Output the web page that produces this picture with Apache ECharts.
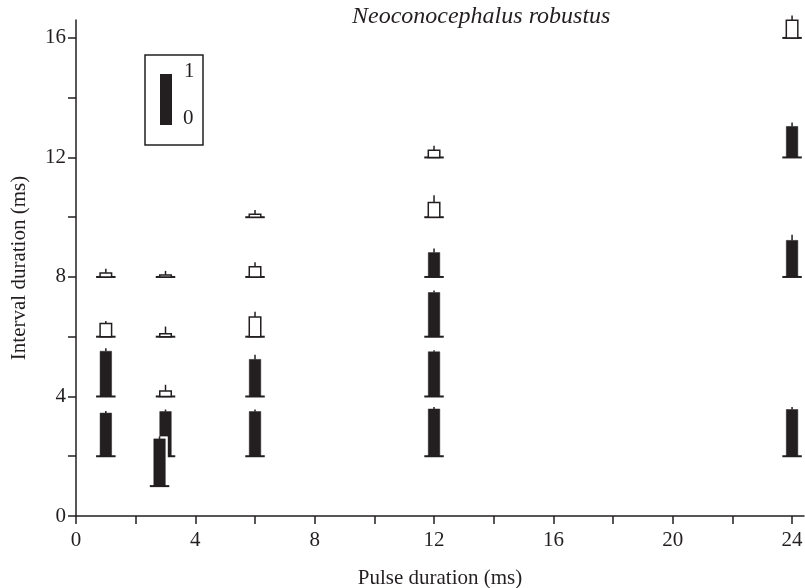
<!DOCTYPE html>
<html>
<head>
<meta charset="utf-8">
<script src="https://cdn.jsdelivr.net/npm/echarts@6/dist/echarts.min.js"></script>
<style>
  html, body { margin: 0; padding: 0; background: #fff; }
  #main { width: 805px; height: 588px; }
</style>
</head>
<body>
<div id="main"></div>
<script>
// pulse duration (ms), interval duration (ms), response (0..1), error, filled bar?
var pulse    = [1, 1, 1, 1, 3, 3, 3, 3, 6, 6, 6, 6, 6, 12, 12, 12, 12, 12, 12, 24, 24, 24, 24, 2.8];
var interval = [8, 6, 4, 2, 8, 6, 4, 2, 10, 8, 6, 4, 2, 12, 10, 8, 6, 4, 2, 16, 12, 8, 2, 1];
var response = [0.08, 0.26, 0.89, 0.85, 0.04, 0.06, 0.11, 0.88, 0.06, 0.2, 0.39, 0.73, 0.88,
                0.14, 0.29, 0.48, 0.87, 0.88, 0.93, 0.35, 0.61, 0.72, 0.92, 0.93];
var errs     = [0.08, 0.05, 0.06, 0.04, 0.08, 0.14, 0.12, 0.04, 0.08, 0.09, 0.1, 0.09, 0.04,
                0.09, 0.14, 0.08, 0.04, 0.03, 0.04, 0.09, 0.08, 0.11, 0.05, 0.05];
var filled   = [0, 0, 1, 1, 0, 0, 0, 1, 0, 0, 0, 1, 1, 0, 0, 1, 1, 1, 1, 0, 1, 1, 1, 1];

var xTicks = [0, 2, 4, 6, 8, 10, 12, 14, 16, 18, 20, 22, 24];
var xLabels = [0, 4, 8, 12, 16, 20, 24];
var yTicks = [0, 2, 4, 6, 8, 10, 12, 14, 16];
var yLabels = [0, 4, 8, 12, 16];

var INK = '#231f20';
var SCALE = 1.7; // y units for a response of 1

var data = pulse.map(function (p, i) {
    return [p, interval[i], response[i], errs[i], filled[i]];
});

function renderItem(params, api) {
    var x = api.value(0), y = api.value(1), r = api.value(2), e = api.value(3), f = api.value(4);
    var base = api.coord([x, y]);
    var top = api.coord([x, y + r * SCALE]);
    var whisk = api.coord([x, y + (r + e) * SCALE]);
    var bw = 11.5, lw = 19.5;
    var h = base[1] - top[1];
    return {
        type: 'group',
        children: [
            { type: 'rect', shape: { x: base[0] - bw / 2 - 2.5, y: top[1] - 2.5, width: bw + 5, height: h + 2.5 },
              style: { fill: '#fff' } },
            { type: 'line', shape: { x1: base[0] - lw / 2, y1: base[1], x2: base[0] + lw / 2, y2: base[1] },
              style: { stroke: INK, lineWidth: 2 } },
            { type: 'line', shape: { x1: base[0], y1: top[1], x2: base[0], y2: whisk[1] },
              style: { stroke: INK, lineWidth: 1.5 } },
            { type: 'rect', shape: { x: base[0] - bw / 2, y: top[1], width: bw, height: h },
              style: f ? { fill: INK, stroke: INK, lineWidth: 0.5 } : { fill: '#fff', stroke: INK, lineWidth: 1.5 } }
        ]
    };
}

var myChart = echarts.init(document.getElementById('main'));
var axisFont = { fontFamily: 'Liberation Serif', fontSize: 21, color: INK };
var nameFont = { fontFamily: 'Liberation Serif', fontSize: 21, color: INK };

var option = {
    animation: false,
    grid: { left: 76, right: 1, top: 20, bottom: 72, outerBoundsMode: 'none', containLabel: false },
    xAxis: {
        type: 'value', min: 0, max: 24.4,
        name: 'Pulse duration (ms)', nameLocation: 'middle', nameGap: 52,
        nameTextStyle: nameFont,
        splitLine: { show: false },
        axisLine: { lineStyle: { color: INK, width: 1.5 } },
        axisTick: { customValues: xTicks, length: 8, lineStyle: { color: INK, width: 1.5 } },
        axisLabel: Object.assign({ customValues: xLabels, margin: 14 }, axisFont)
    },
    yAxis: {
        type: 'value', min: 0, max: 16.6,
        name: 'Interval duration (ms)', nameLocation: 'middle', nameGap: 46,
        nameTextStyle: nameFont,
        splitLine: { show: false },
        axisLine: { lineStyle: { color: INK, width: 1.5 } },
        axisTick: { customValues: yTicks, length: 8, lineStyle: { color: INK, width: 1.5 } },
        axisLabel: Object.assign({ customValues: yLabels, margin: 10 }, axisFont)
    },
    graphic: [
        { type: 'text', left: 352, top: 5,
          style: { text: 'Neoconocephalus robustus', font: 'italic 24px "Liberation Serif"', fill: INK } },
        { type: 'rect', shape: { x: 145, y: 55, width: 58, height: 90 },
          style: { fill: 'none', stroke: INK, lineWidth: 1.5 } },
        { type: 'rect', shape: { x: 160, y: 74, width: 12, height: 51 }, style: { fill: INK } },
        { type: 'text', x: 184, y: 61, style: { text: '1', font: '21px "Liberation Serif"', fill: INK } },
        { type: 'text', x: 183, y: 108, style: { text: '0', font: '21px "Liberation Serif"', fill: INK } }
    ],
    series: [{
        type: 'custom',
        renderItem: renderItem,
        data: data,
        encode: { x: 0, y: 1 },
        clip: false
    }]
};

myChart.setOption(option);
</script>
</body>
</html>
